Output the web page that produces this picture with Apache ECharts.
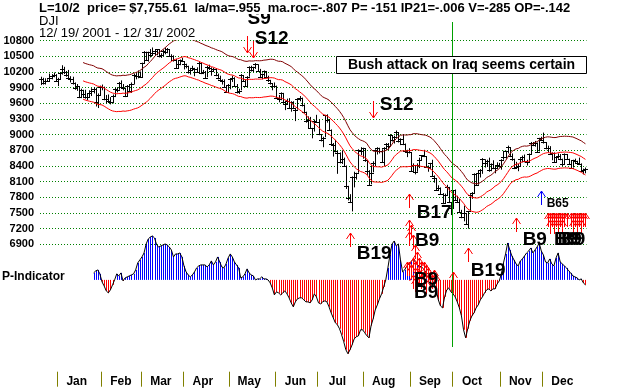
<!DOCTYPE html>
<html><head><meta charset="utf-8"><title>DJI 2002</title>
<script src="https://cdn.jsdelivr.net/npm/echarts@6.0.0/dist/echarts.min.js"></script>
<style>html,body{margin:0;padding:0;background:#fff;}#chart{width:624px;height:390px;}</style>
</head><body><div id="chart"></div>
<script>
// ================= DATA =================
const monthNames = ['Dec','Jan','Feb','Mar','Apr','May','Jun','Jul','Aug','Sep','Oct','Nov','Dec'];
const monthDays = [
 [19,20,21,24,26,27,28,31],
 [2,3,4,7,8,9,10,11,14,15,16,17,18,22,23,24,25,28,29,30,31],
 [1,4,5,6,7,8,11,12,13,14,15,19,20,21,22,25,26,27,28],
 [1,4,5,6,7,8,11,12,13,14,15,18,19,20,21,22,25,26,27,28],
 [1,2,3,4,5,8,9,10,11,12,15,16,17,18,19,22,23,24,25,26,29,30],
 [1,2,3,6,7,8,9,10,13,14,15,16,17,20,21,22,23,24,28,29,30,31],
 [3,4,5,6,7,10,11,12,13,14,17,18,19,20,21,24,25,26,27,28],
 [1,2,3,5,8,9,10,11,12,15,16,17,18,19,22,23,24,25,26,29,30,31],
 [1,2,5,6,7,8,9,12,13,14,15,16,19,20,21,22,23,26,27,28,29,30],
 [3,4,5,6,9,10,11,12,13,16,17,18,19,20,23,24,25,26,27,30],
 [1,2,3,4,7,8,9,10,11,14,15,16,17,18,21,22,23,24,25,28,29,30,31],
 [1,4,5,6,7,8,11,12,13,14,15,18,19,20,21,22,25,26,27,29],
 [2,3,4,5,6,9,10,11,12,13,16,17,18,19,20,23,24,26,27,30,31]
];
const closes = [10070,9985,10035,10035,10088,10131,10137,10021,
10073,10172,10260,10197,10151,10094,10068,9988,9891,9924,9712,9850,9772,9714,9731,9796,9840,9866,9618,9763,9920,
9908,9688,9685,9653,9625,9744,9884,9864,9989,9904,9903,9745,9941,9834,9968,10146,10115,10127,10106,
10368,10587,10433,10575,10525,10572,10612,10633,10502,10517,10608,10577,10635,10502,10498,10427,10282,10353,10427,10404,
10362,10313,10199,10235,10271,10249,10209,10381,10176,10191,10094,10302,10276,10219,10257,10136,10089,10038,10035,9911,9820,9946,
10060,10092,9939,9808,9837,10141,10037,9940,10109,10298,10244,10290,10353,10229,10105,10158,10217,10105,10043,9982,9924,9925,
9709,9688,9796,9624,9590,9645,9518,9620,9503,9474,9688,9707,9562,9431,9253,9281,9127,9121,9270,9243,
9008,8896,8944,9380,9275,9097,8814,8801,8684,8640,8474,8543,8409,8019,7784,7702,8191,8186,8264,8712,8680,8737,
8506,8313,8043,8274,8456,8712,8745,8688,8483,8743,8818,8778,8991,8897,8958,9053,8872,8919,8825,8694,8670,8664,
8309,8426,8284,8428,8519,8602,8582,8380,8380,8448,8208,8173,7943,7986,7873,7684,7842,7998,7702,7592,
7938,7756,7718,7528,7423,7502,7286,7534,7850,7877,8256,8036,8275,8323,8538,8451,8494,8318,8444,8368,8368,8427,8397,
8518,8571,8679,8771,8586,8537,8358,8386,8398,8542,8580,8487,8474,8623,8845,8805,8849,8677,8932,8896,
8863,8743,8737,8623,8645,8473,8574,8592,8539,8433,8627,8535,8447,8365,8511,8493,8448,8433,8304,8332,8342];
const highs = [10110,10090,10080,10060,10170,10160,10190,10160,
10090,10200,10330,10300,10220,10240,10120,10110,10000,9970,9930,9880,9860,9860,9780,9850,9890,9910,9900,9790,9940,
9960,9920,9760,9770,9720,9770,9900,9910,10010,10040,9970,9900,9950,9960,10000,10170,10180,10230,10210,
10380,10600,10590,10590,10640,10670,10640,10640,10630,10560,10630,10670,10660,10640,10540,10520,10450,10410,10440,10470,
10410,10360,10320,10280,10320,10280,10290,10400,10380,10240,10220,10320,10340,10290,10280,10260,10170,10130,10060,10060,9940,9970,
10080,10130,10100,9970,9880,10160,10140,10060,10120,10310,10320,10300,10370,10350,10260,10170,10230,10220,10130,10050,9990,10000,
9940,9760,9810,9800,9620,9690,9700,9640,9640,9510,9700,9740,9710,9580,9440,9350,9340,9130,9290,9380,
9290,9010,8960,9380,9390,9300,9100,8840,8900,8690,8660,8700,8560,8410,8020,7860,8200,8290,8270,8720,8760,8750,
8740,8510,8320,8410,8490,8720,8760,8750,8720,8760,8840,8840,9010,8990,8980,9080,9050,8930,9010,8830,8710,8740,
8660,8450,8420,8450,8560,8610,8710,8580,8410,8460,8520,8220,8170,8030,7990,7880,7870,8040,8000,7700,
7940,7950,7830,7770,7560,7640,7500,7540,7860,7900,8260,8250,8320,8340,8550,8530,8520,8560,8450,8510,8400,8470,8460,
8530,8690,8690,8790,8760,8640,8540,8480,8440,8550,8600,8620,8520,8640,8860,8860,8880,8850,8940,8960,
9040,8860,8790,8780,8660,8660,8590,8640,8630,8540,8640,8630,8540,8500,8520,8540,8500,8560,8450,8350,8370];
const lows = [9950,9960,9960,10010,10020,10060,10100,10010,
9930,10050,10150,10160,10110,10060,10000,9960,9860,9840,9700,9700,9720,9690,9660,9720,9740,9790,9540,9510,9750,
9850,9660,9600,9620,9580,9600,9720,9810,9860,9880,9850,9720,9740,9820,9800,9960,10060,10080,10090,
10100,10360,10410,10400,10480,10520,10510,10520,10480,10470,10500,10540,10560,10490,10410,10400,10270,10270,10330,10390,
10250,10270,10170,10150,10220,10120,10190,10200,10160,10160,10080,10100,10240,10130,10200,10120,10060,10020,9960,9900,9800,9800,
9870,10010,9920,9790,9780,9850,10020,9920,9930,10110,10210,10200,10260,10210,10090,10060,10110,10090,10010,9960,9850,9900,
9690,9620,9660,9600,9470,9570,9500,9440,9490,9260,9480,9640,9540,9410,9230,9120,9110,8930,9060,9230,
8990,8870,8760,8950,9230,9080,8800,8580,8660,8250,8450,8440,8390,7960,7740,7690,7530,7990,8140,8270,8610,8540,
8480,8230,8020,8050,8280,8400,8620,8640,8470,8400,8710,8710,8780,8870,8830,8960,8850,8800,8800,8680,8570,8640,
8300,8290,8240,8290,8360,8500,8570,8370,8290,8340,8200,8080,7930,7920,7850,7670,7690,7840,7690,7460,
7590,7740,7690,7520,7400,7340,7270,7200,7540,7770,7880,8020,8040,8180,8250,8370,8380,8290,8300,8340,8260,8340,8370,
8330,8520,8540,8640,8570,8500,8340,8350,8300,8400,8470,8470,8410,8460,8620,8780,8770,8660,8680,8880,
8830,8720,8660,8610,8510,8460,8470,8540,8510,8400,8430,8520,8420,8350,8370,8460,8440,8420,8290,8240,8260];

// P-Indicator, one value per trading day starting at day index pStartIndex
const pStartIndex = 25;
const pIndicator = [7,9,10,6,-2,-6,-11,-13,-10,-5,
0,6,4,7,-1,2,3,4,5,6,
10,17,20,23,27,36,41,43,44,42,
35,33,34,35,36,35,33,30,23,26,
26,27,23,14,8,5,3,5,8,12,
14,15,15,15,13,15,19,15,18,23,
18,13,12,16,22,26,23,18,15,12,
2,3,6,11,7,5,4,0,1,1,
3,1,1,0,-3,-8,-15,-12,-13,-15,
-13,-11,-14,-18,-23,-27,-22,-19,-18,-18,
-20,-22,-22,-23,-20,-14,-17,-23,-24,-22,
-21,-22,-27,-33,-38,-43,-45,-49,-55,-62,
-70,-74,-70,-65,-59,-57,-56,-50,-50,-53,
-56,-58,-46,-39,-30,-25,-19,-14,-7,0,
12,25,36,39,34,36,20,8,10,14,
16,18,21,18,15,14,13,11,8,6,
4,0,-4,-10,-20,-26,-28,-17,-10,-8,
-12,-14,-17,-22,-28,-36,-50,-58,-49,-41,
-36,-33,-28,-25,-20,-17,-13,-10,-9,-11,
-9,-9,-4,-1,6,17,26,37,30,24,
20,16,14,19,21,24,27,29,32,27,
30,33,37,29,25,18,17,21,16,14,
22,27,18,16,14,12,9,7,4,3,
2,0,1,-3,-5];

// price tick labels on the left axis
const priceTicks = [6900,7200,7500,7800,8100,8400,8700,9000,9300,9600,9900,10200,10500,10800];

// signal arrows: day index, price level of the arrow tip, direction (1 up / -1 down), colour kind
const sigIdx   = [98,101,158,147,175,203,196,226,238,
  174,175,175,175,176,176,177,177,177,178,178,178,179,179,180,180,181,181,182,182,183,183,184,185,186,187,188,
  241,242,243,244,245,246,247,248,249,250,252,253,254,255,256,257,258,259,
  242,244,246,248,253,255,257];
const sigPrice = [10564,10469,9313,7110,7863,6823,6375,7409,7921,
  6560,7365,7135,6560,7269,6503,7078,6637,6311,6886,6560,6254,6752,6445,6637,6407,6560,6311,6560,6369,6503,6216,6445,6369,6311,6407,6311,
  7495,7495,7495,7495,7495,7495,7495,7495,7495,7495,7495,7495,7495,7495,7495,7495,7495,7495,
  7365,7365,7365,7365,7365,7365,7365];
const sigDir   = [-1,-1,-1,1,1,1,1,1,1,
  1,1,1,1,1,1,1,1,1,1,1,1,1,1,1,1,1,1,1,1,1,1,1,1,1,1,1,
  1,1,1,1,1,1,1,1,1,1,1,1,1,1,1,1,1,1,
  1,1,1,1,1,1,1];
const sigKind  = ['sell','sell','sell','buy','buy','buy','buy','buy','b65'];

// signal labels: text, day index, price level of the text centre
const labText  = ['S9','S12','S12','B19','B17','B9','B9','B9','B19','B9','B65','B9','B9','B9'];
const labIdx   = [103.8,109.7,169.2,158.5,187,183.7,183.2,183.2,212.7,234.9,245.8,249.8,251.5,253.2];
const labPrice = [11216,10842,9568,6714,7505,6963,6216,5967,6388,6988,7681,6988,6988,6988];

const markerIdx = 195.6;   // green vertical line (L=10/2)
const headerText = 'L=10/2  price= $7,755.61  la/ma=.955  ma.roc=-.807 P= -151 IP21=-.006 V=-285 OP=-.142';
const symbolText = 'DJI';
const rangeText = '12/ 19/ 2001 - 12/ 31/ 2002';
const noteText = 'Bush attack on Iraq seems certain';
const maLength = 21, bandPct = 0.035;

// ================= BUILD =================
const FONT = '"Liberation Sans", Arial, Helvetica, sans-serif';
const N = closes.length;
const monthTickVals = [], monthLabelVals = [], monthLabelName = {};
let cnt = 0;
monthDays.forEach((days, m) => {
  if (m > 0) {
    monthTickVals.push(cnt - 0.5);
    monthLabelVals.push(cnt + 9);
    monthLabelName[cnt + 9] = monthNames[m];
  }
  cnt += days.length;
});

const barData = closes.map((c, i) => [i, highs[i], lows[i], c]);
const ma = closes.map((c, i) => {
  if (i < maLength - 1) return null;
  let s = 0; for (let k = i - maLength + 1; k <= i; k++) s += closes[k];
  return s / maLength;
});
const midLine = [], upLine = [], loLine = [];
ma.forEach((v, i) => { if (v != null) { midLine.push([i, v]); upLine.push([i, v * (1 + bandPct)]); loLine.push([i, v * (1 - bandPct)]); } });
const pData = pIndicator.map((v, k) => [pStartIndex + k, v]);
const sigData = sigIdx.map((x, k) => [x, sigPrice[k], sigDir[k]]);
const labData = labIdx.map((x, k) => [x, labPrice[k]]);

const chart = echarts.init(document.getElementById('chart'), null, {renderer: 'canvas'});
const xBase = {type: 'value', min: -0.5, max: N - 0.5};

chart.setOption({
  animation: false,
  backgroundColor: '#fff',
  grid: [
    {left: 40, right: 37.5, top: 40.7, bottom: 145.7},
    {left: 40, right: 37.5, top: 230, bottom: 18.3}
  ],
  xAxis: [
    Object.assign({gridIndex: 0, show: false}, xBase),
    Object.assign({gridIndex: 1, position: 'bottom'}, xBase, {
      axisLine: {show: false, onZero: false},
      splitLine: {show: false},
      axisTick: {show: true, length: 15, customValues: monthTickVals, lineStyle: {color: '#808000', width: 1}},
      axisLabel: {show: true, customValues: monthLabelVals, formatter: v => monthLabelName[Math.round(v)] || '',
        fontFamily: FONT, fontWeight: 'bold', fontSize: 12, color: '#000', margin: 4}
    })
  ],
  yAxis: [
    {gridIndex: 0, type: 'value', min: priceTicks[0], max: priceTicks[priceTicks.length - 1], interval: 300,
      axisLine: {show: false}, axisTick: {show: false},
      axisLabel: {fontFamily: FONT, fontWeight: 'bold', fontSize: 11, color: '#000', margin: 6, formatter: v => String(v)},
      splitLine: {show: true, lineStyle: {color: '#008000', type: [1, 2], width: 1}}},
    {gridIndex: 1, type: 'value', min: -92, max: 50, show: false, splitLine: {show: false}}
  ],
  series: [
    { // HLC bars
      type: 'custom', xAxisIndex: 0, yAxisIndex: 0, data: barData, encode: {x: 0, y: [1, 2]}, z: 3,
      renderItem: (params, api) => {
        const i = api.value(0);
        const hi = api.coord([i, api.value(1)]);
        const lo = api.coord([i, api.value(2)]);
        const cl = api.coord([i, api.value(3)]);
        const x = Math.round(hi[0]) + 0.5, yc = Math.round(cl[1]) + 0.5;
        return {type: 'group', children: [
          {type: 'line', shape: {x1: x, y1: hi[1], x2: x, y2: lo[1]}, style: {stroke: '#000', lineWidth: 1}},
          {type: 'line', shape: {x1: x - 2.5, y1: yc, x2: x + 2.5, y2: yc}, style: {stroke: '#000', lineWidth: 1}}
        ]};
      }
    },
    {type: 'line', xAxisIndex: 0, yAxisIndex: 0, data: upLine, showSymbol: false, symbol: 'none', z: 4,
      lineStyle: {color: '#800000', width: 1}},
    {type: 'line', xAxisIndex: 0, yAxisIndex: 0, data: midLine, showSymbol: false, symbol: 'none', z: 4,
      lineStyle: {color: '#ff0000', width: 1}},
    {type: 'line', xAxisIndex: 0, yAxisIndex: 0, data: loLine, showSymbol: false, symbol: 'none', z: 4,
      lineStyle: {color: '#ff0000', width: 1}},
    { // P-indicator histogram
      type: 'custom', xAxisIndex: 1, yAxisIndex: 1, data: pData, z: 3,
      renderItem: (params, api) => {
        const i = api.value(0), v = api.value(1);
        const t = api.coord([i, v]), b = api.coord([i, 0]);
        const x = Math.round(t[0]) + 0.5;
        return {type: 'line', shape: {x1: x, y1: b[1], x2: x, y2: t[1]},
          style: {stroke: v >= 0 ? '#0000ff' : '#ff0000', lineWidth: 1}};
      }
    },
    {type: 'line', xAxisIndex: 1, yAxisIndex: 1, data: pData, showSymbol: false, symbol: 'none', z: 4,
      lineStyle: {color: '#000', width: 1}},
    { // green marker line
      type: 'custom', xAxisIndex: 0, yAxisIndex: 0, data: [[markerIdx, priceTicks[0]]], clip: false, z: 5,
      renderItem: (params, api) => {
        const p = api.coord([api.value(0), api.value(1)]);
        const x = Math.round(p[0]) + 0.5;
        return {type: 'line', shape: {x1: x, y1: 22, x2: x, y2: 347}, style: {stroke: '#00a000', lineWidth: 1}};
      }
    },
    { // signal arrows
      type: 'custom', xAxisIndex: 0, yAxisIndex: 0, data: sigData, clip: false, z: 6,
      renderItem: (params, api) => {
        const k = params.dataIndex;
        const p = api.coord([api.value(0), api.value(1)]);
        const dir = api.value(2);
        const kind = sigKind[k] || 'buy';
        const col = kind === 'b65' ? '#0000ff' : '#ff0000';
        const len = kind === 'sell' ? 17 : 14;
        const x = Math.round(p[0]) + 0.5, y = Math.round(p[1]);
        const s = dir > 0 ? 1 : -1;
        return {type: 'group', children: [
          {type: 'line', shape: {x1: x, y1: y, x2: x, y2: y + s * len}, style: {stroke: col, lineWidth: 1}},
          {type: 'polyline', shape: {points: [[x - 4, y + s * 6], [x, y], [x + 4, y + s * 6]]}, style: {stroke: col, fill: null, lineWidth: 1}}
        ]};
      }
    },
    { // signal labels
      type: 'custom', xAxisIndex: 0, yAxisIndex: 0, data: labData, clip: false, z: 7,
      renderItem: (params, api) => {
        const k = params.dataIndex;
        const p = api.coord([api.value(0), api.value(1)]);
        const small = labText[k] === 'B65';
        return {type: 'text', x: p[0], y: p[1], style: {text: labText[k], fill: '#000',
          font: 'bold ' + (small ? 12 : 19) + 'px ' + FONT, align: 'center', verticalAlign: 'middle'}};
      }
    }
  ],
  graphic: [
    {type: 'rect', shape: {x: 0, y: 0, width: 624, height: 14}, style: {fill: '#fff'}, z: 100},
    {type: 'text', x: 39, y: 8, z: 101, style: {text: headerText, fill: '#000', verticalAlign: 'middle',
      fontFamily: FONT, fontWeight: 'bold', fontSize: 13}},
    {type: 'text', x: 39, y: 21, z: 101, style: {text: symbolText, font: '13px ' + FONT, fill: '#000', verticalAlign: 'middle'}},
    {type: 'text', x: 39, y: 33.5, z: 101, style: {text: rangeText, font: '13px ' + FONT, fill: '#000', verticalAlign: 'middle'}},
    {type: 'text', x: 2, y: 277, z: 101, style: {text: 'P-Indicator', font: 'bold 12px ' + FONT, fill: '#000', verticalAlign: 'middle'}},
    {type: 'rect', shape: {x: 336.5, y: 56.5, width: 250, height: 17}, z: 100, style: {fill: '#fff', stroke: '#000', lineWidth: 1}},
    {type: 'text', x: 461.5, y: 65, z: 101, style: {text: noteText, font: 'bold 14px ' + FONT, fill: '#000', align: 'center', verticalAlign: 'middle'}}
  ]
});
</script></body></html>
